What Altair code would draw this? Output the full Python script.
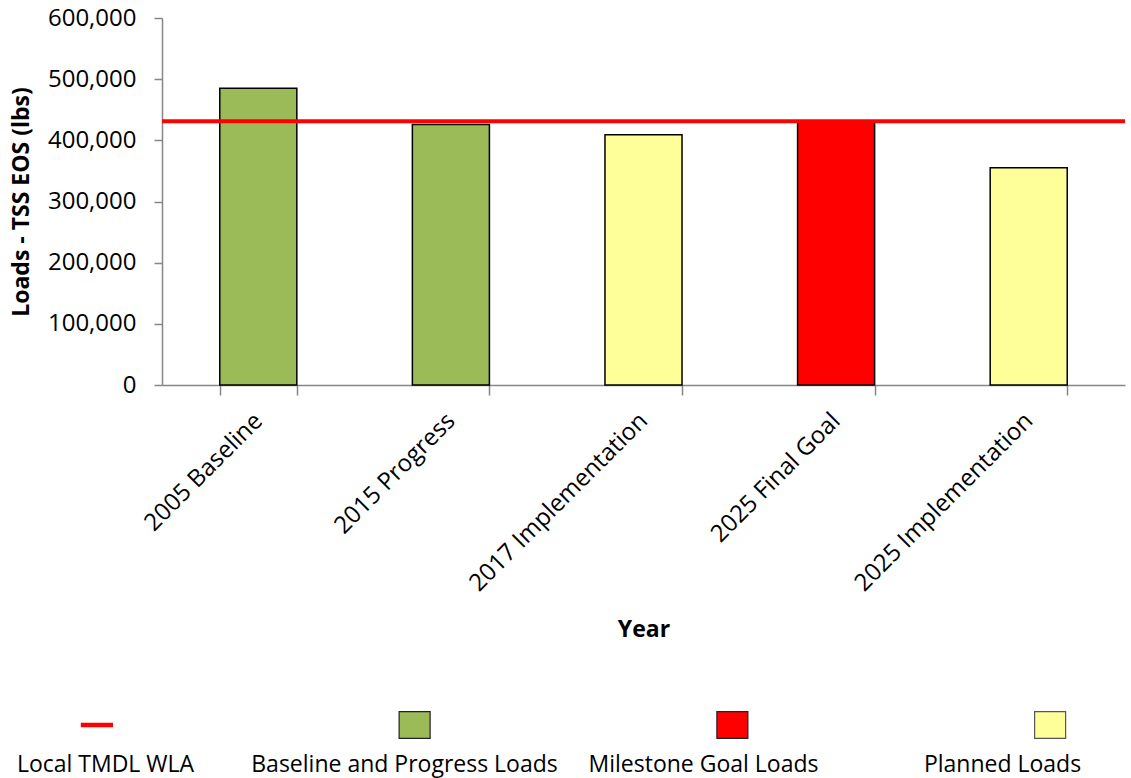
import altair as alt
import pandas as pd

# ---- data ----
categories = ["2005 Baseline", "2015 Progress", "2017 Implementation",
              "2025 Final Goal", "2025 Implementation"]
loads = [485000, 426000, 409000, 431000, 355000]
load_types = ["Baseline and Progress Loads", "Baseline and Progress Loads",
              "Planned Loads", "Milestone Goal Loads", "Planned Loads"]
tmdl_wla = 431000
y_ticks = [0, 100000, 200000, 300000, 400000, 500000, 600000]

legend_items = ["Local TMDL WLA", "Baseline and Progress Loads",
                "Milestone Goal Loads", "Planned Loads"]
legend_colors = ["#FF0000", "#9BBB59", "#FF0000", "#FFFF99"]

FONT = "Open Sans"

bars_df = pd.DataFrame({"Year": categories, "Load": loads, "Type": load_types})
wla_df = pd.DataFrame({"Load": [tmdl_wla]})
legend_df = pd.DataFrame({"item": legend_items})

color_scale = alt.Scale(domain=legend_items, range=legend_colors)

x_enc = alt.X(
    "Year:N", sort=categories, title="Year",
    scale=alt.Scale(paddingInner=0.6, paddingOuter=0.3),
    axis=alt.Axis(labelAngle=-45, labelAlign="right", labelBaseline="middle",
                  labelFontSize=24, labelColor="black", labelPadding=22,
                  labelLimit=0,
                  tickBand="extent", tickSize=10, tickColor="#868686",
                  domainColor="#868686", domainWidth=1.5, tickWidth=1.5,
                  titleFontSize=23, titleFontWeight="bold", titleColor="black",
                  titlePadding=33),
)

y_enc = alt.Y("Load:Q", title="Loads - TSS EOS (lbs)",
              scale=alt.Scale(domain=[0, 600000], nice=False),
              axis=alt.Axis(values=y_ticks, format=",.0f", grid=False,
                            labelFontSize=24, labelColor="black", labelPadding=18,
                            tickSize=8, tickColor="#868686", tickWidth=1.5,
                            domainColor="#868686", domainWidth=1.5,
                            titleFontSize=23, titleFontWeight="bold",
                            titleColor="black", titlePadding=14))

bars = alt.Chart(bars_df).mark_bar(stroke="black", strokeWidth=1.5).encode(
    x=x_enc,
    y=y_enc,
    color=alt.Color("Type:N", scale=color_scale, legend=None),
)

rule = alt.Chart(wla_df).mark_rule(color="#FF0000", strokeWidth=4).encode(y=y_enc)

main = alt.layer(bars, rule).properties(width=963, height=367)

# ---- custom legend: symbol above label ----
rect_path = "M-1,-0.86H1V0.86H-1Z"
dash_path = "M-1,-0.1H1V0.1H-1Z"
symbol_x = alt.X("item:N", sort=legend_items, axis=None,
                 scale=alt.Scale(paddingInner=0, paddingOuter=0, range=[-224, 1047]))
label_x = alt.X("item:N", sort=legend_items, axis=None,
                scale=alt.Scale(paddingInner=0, paddingOuter=0, range=[-206, 990]))

leg_symbols = alt.Chart(legend_df).mark_point(
    filled=True, size=961, strokeWidth=1.2, opacity=1
).encode(
    x=symbol_x,
    y=alt.value(13),
    fill=alt.Fill("item:N", scale=color_scale, legend=None),
    stroke=alt.Stroke("item:N", scale=alt.Scale(domain=legend_items,
                      range=["#FF0000", "#222222", "#222222", "#555555"]), legend=None),
    shape=alt.Shape("item:N", scale=alt.Scale(domain=legend_items,
                    range=[dash_path, rect_path, rect_path, rect_path]), legend=None),
)

leg_text = alt.Chart(legend_df).mark_text(
    fontSize=23, color="black", baseline="middle", align="center"
).encode(x=label_x, y=alt.value(53), text="item:N")

legend = alt.layer(leg_symbols, leg_text).resolve_scale(x="independent").properties(
    width=963, height=66)

chart = alt.vconcat(main, legend, spacing=68).properties(
    padding={"left": 10, "top": 6, "right": 0, "bottom": 0}
).configure(font=FONT).configure_view(stroke=None)

chart.save("out.html", embed_options={"renderer": "svg", "actions": False})
